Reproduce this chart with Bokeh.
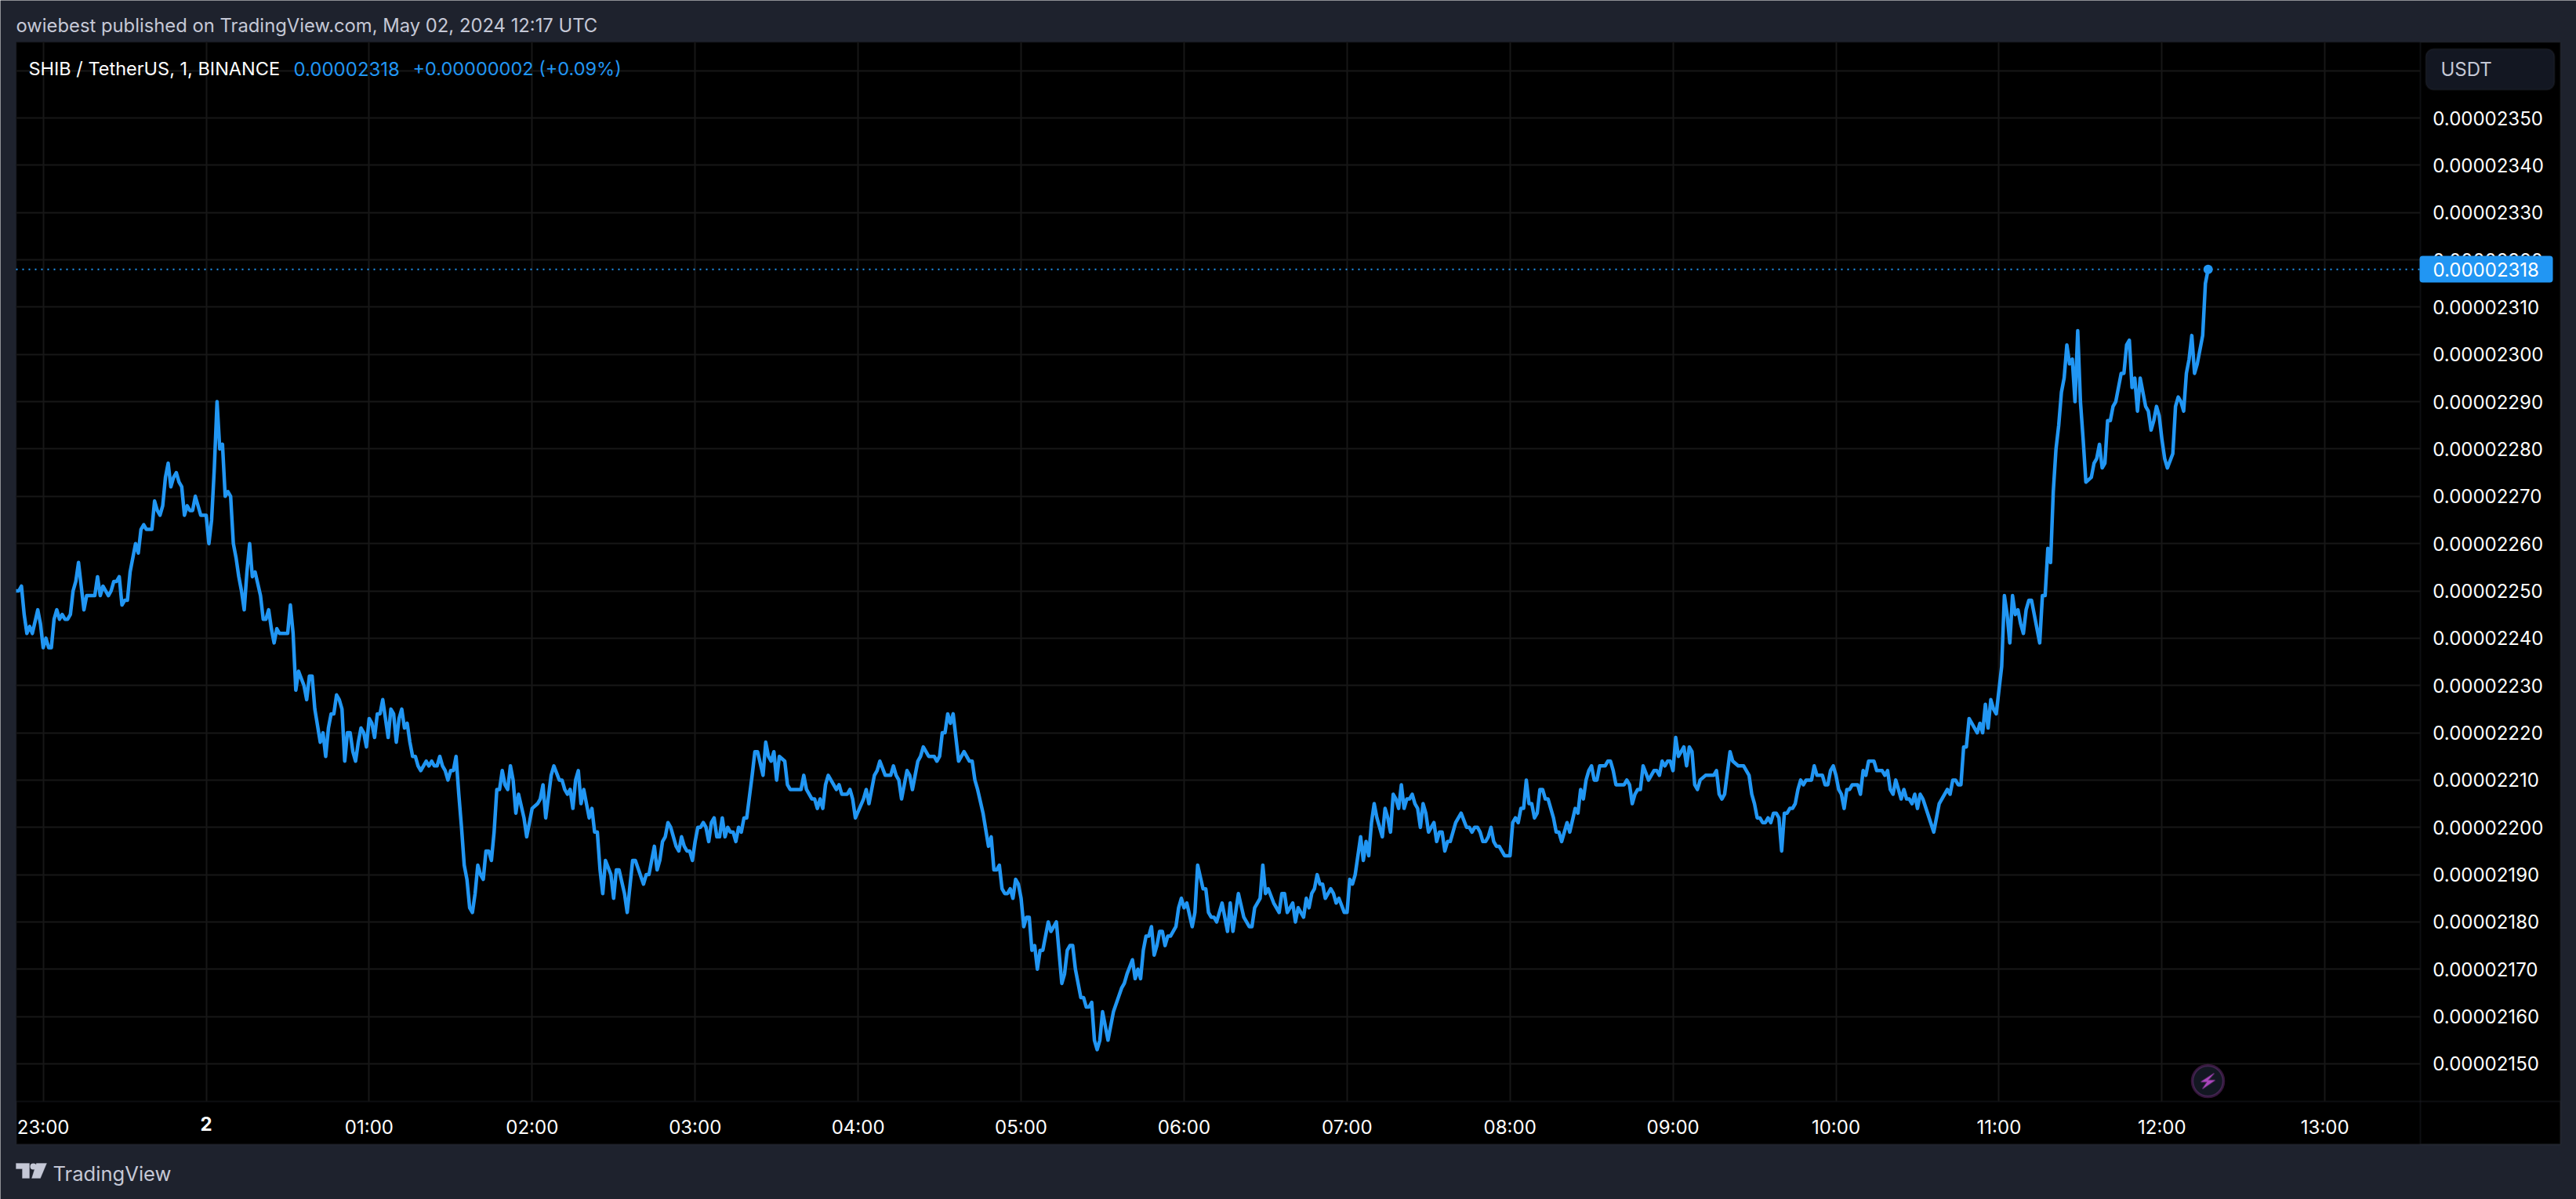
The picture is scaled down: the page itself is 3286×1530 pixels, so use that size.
from bokeh.embed import file_html
from bokeh.models import BoxAnnotation, FixedTicker, Grid, Label, LinearAxis, PolyAnnotation, Range1d
from bokeh.plotting import figure
from bokeh.resources import INLINE

# minutes after 23:00 and SHIB price in 1e-8 USDT
minutes = [
    -10, -9, -8, -7, -6, -5, -4, -2, -1, 0,
    1, 2, 3, 4, 5, 6, 7, 8, 9, 10,
    11, 12, 13, 14, 15, 16, 19, 20, 21, 22,
    24, 25, 26, 27, 28, 29, 30, 31, 32, 34,
    35, 36, 37, 38, 40, 41, 42, 43, 44, 45,
    46, 47, 48, 49, 50, 51, 52, 53, 54, 55,
    56, 57, 58, 60, 61, 62, 63, 64, 65, 66,
    67, 68, 69, 70, 71, 72, 73, 74, 75, 76,
    77, 78, 80, 81, 82, 83, 84, 85, 86, 87,
    90, 91, 92, 93, 94, 96, 97, 98, 99, 100,
    102, 103, 104, 105, 106, 107, 108, 109, 110, 111,
    112, 113, 114, 115, 116, 117, 118, 119, 120, 121,
    122, 123, 124, 125, 126, 127, 128, 129, 130, 131,
    132, 133, 134, 135, 136, 137, 138, 139, 140, 141,
    142, 143, 144, 145, 146, 147, 148, 149, 150, 151,
    152, 153, 154, 155, 156, 157, 158, 159, 160, 161,
    162, 163, 164, 165, 166, 167, 168, 169, 170, 171,
    172, 173, 174, 175, 177, 178, 180, 182, 183, 184,
    185, 187, 188, 190, 191, 192, 193, 194, 195, 196,
    197, 198, 199, 200, 201, 202, 203, 204, 205, 206,
    207, 209, 210, 211, 212, 214, 215, 217, 218, 221,
    222, 223, 225, 226, 227, 228, 229, 230, 231, 233,
    234, 235, 236, 237, 238, 239, 240, 241, 242, 243,
    244, 245, 246, 247, 248, 249, 250, 251, 252, 253,
    254, 255, 256, 257, 258, 259, 261, 262, 263, 265,
    266, 267, 268, 269, 270, 271, 273, 274, 275, 279,
    280, 281, 283, 284, 285, 286, 287, 288, 289, 291,
    292, 293, 294, 296, 297, 298, 299, 302, 303, 304,
    306, 307, 308, 310, 312, 313, 314, 315, 316, 318,
    319, 320, 322, 323, 324, 326, 328, 329, 330, 331,
    332, 333, 334, 335, 336, 337, 339, 341, 342, 343,
    344, 346, 348, 349, 350, 351, 352, 353, 354, 355,
    356, 357, 358, 359, 360, 361, 362, 363, 364, 365,
    366, 367, 368, 370, 371, 373, 375, 376, 377, 378,
    379, 380, 382, 383, 384, 385, 386, 387, 388, 389,
    390, 392, 394, 397, 398, 399, 401, 402, 403, 404,
    405, 406, 407, 408, 409, 410, 411, 412, 413, 414,
    415, 417, 418, 419, 420, 421, 423, 424, 425, 427,
    428, 429, 430, 431, 432, 434, 436, 437, 438, 440,
    442, 443, 444, 445, 446, 447, 448, 449, 450, 451,
    453, 455, 456, 457, 458, 460, 461, 462, 464, 465,
    466, 467, 468, 469, 470, 471, 472, 474, 475, 476,
    477, 479, 480, 481, 482, 483, 485, 486, 487, 488,
    489, 490, 491, 493, 494, 495, 496, 497, 498, 499,
    500, 501, 502, 503, 504, 505, 506, 507, 508, 509,
    510, 512, 513, 514, 515, 516, 517, 518, 520, 522,
    524, 525, 526, 527, 528, 529, 530, 531, 532, 533,
    534, 535, 536, 537, 538, 540, 541, 542, 543, 544,
    545, 546, 547, 548, 549, 550, 551, 552, 553, 554,
    556, 557, 558, 559, 561, 562, 564, 565, 566, 567,
    568, 569, 570, 571, 572, 573, 575, 576, 577, 578,
    579, 582, 583, 584, 585, 586, 587, 588, 589, 591,
    593, 594, 595, 596, 597, 598, 599, 600, 601, 602,
    604, 605, 606, 607, 608, 609, 610, 612, 615, 616,
    617, 618, 619, 621, 622, 624, 626, 627, 628, 629,
    630, 631, 632, 633, 634, 635, 636, 637, 638, 639,
    640, 641, 642, 643, 644, 645, 646, 647, 648, 649,
    651, 652, 653, 655, 656, 657, 658, 659, 660, 661,
    662, 663, 664, 665, 666, 668, 669, 670, 671, 672,
    674, 675, 677, 678, 679, 680, 681, 682, 684, 685,
    686, 687, 688, 689, 690, 691, 692, 696, 698, 701,
    702, 703, 704, 705, 706, 707, 708, 709, 710, 712,
    713, 714, 715, 716, 717, 718, 719, 720, 721, 722,
    723, 724, 725, 726, 727, 728, 729, 730, 731, 732,
    733, 734, 735, 736, 737, 738, 739, 740, 741, 742,
    743, 744, 745, 746, 747, 748, 749, 750, 751, 752,
    754, 755, 756, 757, 758, 759, 760, 761, 762, 763,
    765, 766, 767, 768, 769, 770, 771, 772, 774, 775,
    776, 777, 778, 779, 780, 781, 782, 784, 785, 786,
    787, 788, 789, 790, 791, 792, 793, 795, 796, 797,
]
prices = [
    2250, 2250, 2251, 2245, 2241, 2242.5, 2241, 2246, 2243, 2238,
    2240, 2238, 2238, 2244, 2246, 2244, 2245, 2244, 2244, 2245,
    2250, 2252, 2256, 2251, 2246, 2249, 2249, 2253, 2249, 2251,
    2249, 2250, 2252, 2252, 2253, 2247, 2248, 2248, 2254, 2260,
    2258, 2263, 2264, 2263, 2263, 2269, 2267, 2266, 2268, 2274,
    2277, 2272, 2274, 2275, 2273, 2272, 2266, 2268, 2267, 2267,
    2270, 2268, 2266, 2266, 2260, 2265, 2276, 2290, 2280, 2281,
    2270, 2271, 2270, 2260, 2257, 2253, 2250, 2246, 2254, 2260,
    2253, 2254, 2249, 2244, 2244, 2246, 2242, 2239, 2242, 2241,
    2241, 2247, 2241, 2229, 2233, 2230, 2227, 2232, 2232, 2225,
    2218, 2220, 2215, 2221, 2224, 2224, 2228, 2227, 2225, 2214,
    2220, 2220, 2216, 2214, 2218, 2221, 2220, 2217, 2223, 2222,
    2219, 2224, 2224, 2227, 2223, 2219, 2225, 2224, 2218, 2223,
    2225, 2221, 2222, 2218, 2215, 2215, 2213, 2212, 2213, 2214,
    2213, 2214, 2213, 2213, 2215, 2213, 2212, 2210, 2212, 2212,
    2215, 2207, 2200, 2192, 2189, 2183, 2182, 2186, 2192, 2190,
    2189, 2195, 2195, 2193, 2199, 2208, 2208, 2212, 2209, 2208,
    2213, 2210, 2203, 2207, 2202, 2198, 2204, 2205, 2206, 2209,
    2202, 2211, 2213, 2210, 2210, 2208, 2207, 2208, 2204, 2210,
    2212, 2205, 2208, 2205, 2202, 2204, 2199, 2199, 2191, 2186,
    2193, 2190, 2185, 2191, 2191, 2186, 2182, 2193, 2193, 2188,
    2190, 2190, 2196, 2191, 2193, 2197, 2198, 2201, 2200, 2196,
    2195, 2198, 2196, 2195, 2195, 2193, 2197, 2200, 2200, 2201,
    2200, 2197, 2201, 2202, 2198, 2198, 2202, 2198, 2200, 2199,
    2199, 2197, 2200, 2199, 2202, 2202, 2211, 2216, 2216, 2211,
    2218, 2215, 2214, 2216, 2210, 2215, 2214, 2209, 2208, 2208,
    2211, 2208, 2206, 2206, 2204, 2206, 2204, 2209, 2211, 2209,
    2208, 2209, 2207, 2207, 2208, 2206, 2202, 2206, 2208, 2205,
    2211, 2212, 2214, 2211, 2211, 2213, 2211, 2210, 2206, 2212,
    2211, 2208, 2214, 2215, 2217, 2215, 2215, 2214, 2215, 2220,
    2220, 2224, 2222, 2224, 2219, 2214, 2216, 2214, 2214, 2210,
    2208, 2203, 2196, 2198, 2191, 2191, 2192, 2187, 2186, 2186,
    2187, 2185, 2189, 2188, 2185, 2179, 2181, 2181, 2174, 2175,
    2170, 2174, 2174, 2180, 2178, 2180, 2167, 2169, 2174, 2175,
    2175, 2170, 2164, 2164, 2162, 2162, 2163, 2155, 2153, 2155,
    2161, 2155, 2161, 2166, 2167, 2169, 2172, 2168, 2170, 2168,
    2174, 2177, 2177, 2179, 2173, 2175, 2178, 2178, 2175, 2177,
    2177, 2179, 2183, 2185, 2183, 2184, 2179, 2182, 2192, 2187,
    2187, 2182, 2181, 2181, 2180, 2184, 2178, 2184, 2178, 2186,
    2181, 2180, 2179, 2179, 2183, 2184, 2185, 2192, 2186, 2187,
    2184, 2182, 2186, 2186, 2182, 2184, 2180, 2183, 2181, 2185,
    2183, 2186, 2187, 2190, 2188, 2188, 2185, 2187, 2186, 2184,
    2185, 2182, 2182, 2189, 2188, 2190, 2198, 2193, 2197, 2194,
    2201, 2205, 2202, 2198, 2204, 2202, 2199, 2207, 2206, 2204,
    2209, 2204, 2206, 2206, 2207, 2205, 2204, 2200, 2205, 2203,
    2199, 2201, 2197, 2199, 2199, 2195, 2197, 2197, 2201, 2203,
    2200, 2200, 2199, 2200, 2200, 2199, 2197, 2197, 2198, 2200,
    2197, 2196, 2196, 2195, 2194, 2194, 2201, 2202, 2201, 2204,
    2204, 2210, 2205, 2205, 2202, 2203, 2208, 2208, 2206, 2206,
    2202, 2199, 2199, 2197, 2201, 2199, 2204, 2203, 2208, 2206,
    2210, 2212, 2213, 2210, 2210, 2213, 2213, 2214, 2214, 2212,
    2209, 2209, 2210, 2209, 2205, 2207, 2208, 2208, 2213, 2210,
    2212, 2212, 2211, 2214, 2213, 2214, 2214, 2212, 2219, 2215,
    2217, 2213, 2217, 2216, 2209, 2208, 2210, 2211, 2211, 2212,
    2207, 2206, 2207, 2216, 2214, 2213, 2213, 2212, 2211, 2207,
    2205, 2202, 2202, 2201, 2201, 2202, 2201, 2203, 2203, 2202,
    2195, 2203, 2203, 2204, 2204, 2205, 2208, 2210, 2209, 2210,
    2210, 2213, 2211, 2211, 2209, 2209, 2212, 2213, 2211, 2208,
    2207, 2204, 2208, 2208, 2209, 2209, 2207, 2212, 2211, 2214,
    2214, 2212, 2212, 2211, 2212, 2208, 2207, 2210, 2206, 2208,
    2206, 2206, 2205, 2207, 2204, 2207, 2206, 2199, 2205, 2208,
    2207, 2210, 2210, 2209, 2209, 2217, 2217, 2223, 2222, 2220,
    2222, 2220, 2226, 2221, 2227, 2225, 2224, 2229, 2234, 2249,
    2245, 2239, 2249, 2245, 2246, 2243, 2241, 2246, 2248, 2248,
    2245, 2242, 2239, 2249, 2249, 2259, 2256, 2271, 2280, 2285,
    2292, 2295, 2302, 2298, 2299, 2290, 2305, 2290, 2282, 2273,
    2274, 2277, 2278, 2281, 2276, 2277, 2286, 2286, 2289, 2290,
    2296, 2296, 2302, 2303, 2293, 2295, 2288, 2295, 2289, 2288,
    2284, 2286, 2289, 2287, 2282, 2278, 2276, 2279, 2289, 2291,
    2290, 2288, 2296, 2299, 2304, 2296, 2298, 2304, 2315, 2318,
]
assert len(minutes) == len(prices)

last_price = 2318
time_ticks = [0, 60, 120, 180, 240, 300, 360, 420, 480, 540, 600, 660, 720, 780, 840]
time_labels = ["23:00", "", "01:00", "02:00", "03:00", "04:00", "05:00", "06:00",
               "07:00", "08:00", "09:00", "10:00", "11:00", "12:00", "13:00"]
price_ticks = [2150, 2160, 2170, 2180, 2190, 2200, 2210, 2220, 2230, 2240, 2250,
               2260, 2270, 2280, 2290, 2300, 2310, 2320, 2330, 2340, 2350, 2360]

BG = "#1e222d"
PANE_LINE = "#2a2e39"
GRID = "#171717"
BLUE = "#2196f3"
GREY_TEXT = "#c5c8d6"
PURPLE = "#ab47bc"
FONT = "Inter"

W, H = 3286, 1530

# the frame fills the page: everything outside the frame gets clipped in the svg
PANE_X = (-9.99, 875.1)
PANE_Y = (2142.04, 2366.07)

p = figure(
    width=W, height=H,
    x_range=Range1d(-15.76, 932.58),
    y_range=Range1d(2121.33, 2374.86),
    x_axis_type=None, y_axis_type=None,
    output_backend="svg",
    toolbar_location=None,
    min_border=0,
)
p.background_fill_color = BG
p.border_fill_color = BG
p.outline_line_color = None


def box(left, right, top, bottom, level="overlay", **kw):
    p.add_layout(BoxAnnotation(
        left=left, right=right, top=top, bottom=bottom,
        left_units="canvas", right_units="canvas", top_units="canvas", bottom_units="canvas",
        level=level, **kw,
    ))


def poly(xs, ys, color, width=1):
    p.add_layout(PolyAnnotation(
        xs=xs, ys=ys, xs_units="canvas", ys_units="canvas", level="overlay",
        fill_color=color, fill_alpha=1, line_color=color, line_width=width,
    ))


def text(x, y, s, color="#ffffff", size="24px", style="normal", x_units="canvas", align="left"):
    p.add_layout(Label(
        x=x, y=y, x_units=x_units, y_units="canvas", text=s, text_color=color,
        text_font=FONT, text_font_size=size, text_font_style=style,
        text_baseline="middle", text_align=align, level="overlay",
    ))


# black pane and axis panels with their frame
box(20, 3266, 53, 1460, "underlay", fill_color="#000000", fill_alpha=1, line_color=PANE_LINE, line_width=2)
box(20, 3266, 1405, 1460, "underlay", fill_alpha=0, line_color=PANE_LINE, line_width=2)
box(3087, 3266, 53, 1460, "underlay", fill_alpha=0, line_color=PANE_LINE, line_width=2)

xaxis = LinearAxis(ticker=FixedTicker(ticks=time_ticks), fixed_location=PANE_Y[0])
xaxis.major_label_overrides = dict(zip(time_ticks, time_labels))
xaxis.major_label_standoff = 18
yaxis = LinearAxis(ticker=FixedTicker(ticks=price_ticks), fixed_location=PANE_X[1])
yaxis.major_label_overrides = {v: ("" if v == 2360 else f"0.0000{v}") for v in price_ticks}
yaxis.major_label_standoff = 16
for ax in (xaxis, yaxis):
    ax.axis_line_color = None
    ax.major_tick_line_color = None
    ax.minor_tick_line_color = None
    ax.major_tick_out = 0
    ax.major_tick_in = 0
    ax.major_label_text_color = "#ffffff"
    ax.major_label_text_font = FONT
    ax.major_label_text_font_size = "24px"
p.add_layout(xaxis, "below")
p.add_layout(yaxis, "right")

p.add_layout(Grid(dimension=0, ticker=FixedTicker(ticks=time_ticks), cross_bounds=PANE_Y,
                  grid_line_color=GRID, grid_line_width=2))
p.add_layout(Grid(dimension=1, ticker=FixedTicker(ticks=price_ticks), cross_bounds=PANE_X,
                  grid_line_color=GRID, grid_line_width=2))

p.line(list(PANE_X), [last_price, last_price], line_color=BLUE, line_width=2, line_dash=[2, 6])
p.line(minutes, prices, line_color=BLUE, line_width=4.5, line_join="round")
p.scatter(minutes[-1:], prices[-1:], size=12, fill_color=BLUE, line_color=None)

# header, legend and footer
text(20, 32, "owiebest published on TradingView.com, May 02, 2024 12:17 UTC", GREY_TEXT, "23.8px")
text(36, 87, "SHIB / TetherUS, 1, BINANCE", size="23.5px")
text(374, 87, "0.00002318", BLUE)
text(526, 87, "+0.00000002 (+0.09%)", BLUE, "23.5px")
text(67, 1497, "TradingView", GREY_TEXT, "25.6px")

# bold day label on the time axis
text(60, 1433, "2", style="bold", x_units="data", align="center")

# currency button
box(3094, 3258, 62, 114, fill_color="#131722", fill_alpha=1, line_color=PANE_LINE, line_width=2, border_radius=10)
text(3113, 88, "USDT", GREY_TEXT)

# last price tag
box(3086, 3256, 326, 360, fill_color=BLUE, fill_alpha=1, line_alpha=0, border_radius=4)
text(3103, 343, "0.0000" + str(last_price))

# lightning badge
box(2796, 2836, 1359, 1399, fill_color="#131722", fill_alpha=1, line_color=PURPLE, line_width=3.5, border_radius=20)
poly([2824, 2807, 2815, 2809, 2825, 2816], [1369, 1380, 1380, 1389, 1378, 1378], PURPLE, 2)

# TradingView logo
poly([20, 37, 37, 28, 28, 20], [1484, 1484, 1503, 1503, 1491, 1491], GREY_TEXT)
poly([46, 59, 51, 40], [1484, 1484, 1503, 1503], GREY_TEXT)
box(38, 46, 1484, 1492, fill_color=GREY_TEXT, fill_alpha=1, line_alpha=0, border_radius=4)

open("out.html", "w").write(file_html(p, INLINE))
